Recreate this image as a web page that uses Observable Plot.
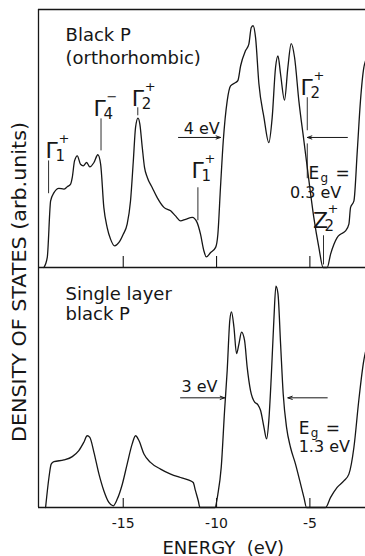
<!DOCTYPE html>
<html><head><meta charset="utf-8">
<script src="https://cdn.jsdelivr.net/npm/d3@7"></script>
<script src="https://cdn.jsdelivr.net/npm/@observablehq/plot@0.6"></script>
<style>
html,body{margin:0;padding:0;background:#fff;}
#chart{position:relative;width:365px;height:556px;overflow:hidden;background:#fff;font-family:"DejaVu Sans",sans-serif;}
#chart svg{position:absolute;left:0;}
</style></head><body><div id="chart"></div>
<script>
// ---------- data ----------
const energyDomain = [-19.54, -2.02];
const dosDomain = [0, 100];
const tickValues = [-15, -10, -5];
const tickLabels = ["-15", "-10", "-5"];
const xAxisLabel = "ENERGY  (eV)";
const xAxisLabelE = -9.64;
const yAxisLabel = "DENSITY OF STATES (arb.units)";

// bulk (orthorhombic) black P
const topE = [-19.25,-19.07,-18.89,-18.71,-18.45,-18.18,-18.0,-17.82,-17.73,-17.61,-17.46,-17.29,-17.14,-16.96,-16.79,-16.57,-16.36,-16.21,-16.04,-15.86,-15.68,-15.46,-15.23,-15.0,-14.79,-14.61,-14.46,-14.34,-14.21,-14.11,-13.98,-13.86,-13.71,-13.45,-13.18,-12.82,-12.46,-12.2,-11.93,-11.66,-11.3,-11.04,-10.86,-10.68,-10.55,-10.32,-10.05,-9.93,-9.79,-9.64,-9.43,-9.25,-8.98,-8.86,-8.71,-8.45,-8.27,-8.14,-8.04,-7.91,-7.73,-7.46,-7.2,-7.02,-6.84,-6.71,-6.57,-6.36,-6.18,-6.0,-5.82,-5.59,-5.32,-5.05,-4.79,-4.52,-4.29,-4.07,-3.89,-3.71,-3.54,-3.36,-3.09,-2.91,-2.82,-2.64,-2.46,-2.29,-2.11,-2.02];
const topDOS = [0,3.9,25.8,29,30.7,30.4,31.3,32.3,34.9,41.3,43.3,40,39.4,40.7,39,40.7,43.7,40,23.3,15.5,11,8.4,9.7,12.9,16.8,25.8,41.3,54.3,57.9,55.6,46.5,38.8,34.9,31,27.1,23.3,22,20,18.1,18.7,19.4,17.4,12.9,6.5,4.1,5.8,7.8,12.9,31,49.1,64.6,70.4,71.7,72.4,78.2,84,86.6,93,93.7,89.1,71.1,58.1,48.4,58.1,77.5,82,74.9,64.9,77.5,86.8,81.4,64.6,49.1,33.6,19.4,7.8,0,0,5.2,9,11.6,12.9,14.2,16.8,23.3,25.8,45.2,64.6,77.5,80.1];

// single layer black P
const bottomE = [-19.16,-18.98,-18.86,-18.71,-18.18,-17.73,-17.38,-17.11,-16.93,-16.79,-16.57,-16.3,-16.04,-15.77,-15.54,-15.32,-15.05,-14.79,-14.52,-14.34,-14.16,-13.89,-13.54,-13.0,-12.46,-11.93,-11.48,-11.25,-11.13,-10.98,-10.89,-10.09,-9.93,-9.75,-9.57,-9.43,-9.29,-9.2,-9.07,-8.93,-8.8,-8.66,-8.5,-8.36,-8.18,-7.96,-7.79,-7.64,-7.46,-7.32,-7.2,-7.07,-6.93,-6.82,-6.71,-6.57,-6.43,-6.25,-6.04,-5.77,-5.54,-5.32,-5.18,-4.16,-3.89,-3.54,-3.18,-2.91,-2.64,-2.38,-2.11,-2.02];
const bottomDOS = [0,12.5,18.1,19.1,19.8,21.2,23.7,27.2,29.9,29.2,23,13.9,7,2.1,0.7,3.5,9.7,18.1,26.5,29.9,27.9,22.3,18.8,16,13.9,12.5,11.4,10.4,7,2.8,0,0,5.6,16.7,40.4,57.1,78,81.5,75.2,64.1,68.2,73.1,69.6,58.5,48.7,43.9,42.9,40.4,33.4,28.6,36.2,54.3,78,92.2,89.1,68.2,47.4,33.4,25.1,18.1,11.1,4.2,0,0,4.2,8.4,11.1,13.9,25.1,44.6,61.3,64.8];

// symmetry labels (top panel)
const symText = ["Γ","Γ","Γ","Γ","Γ","Z"];
const symSub  = ["1","4","2","1","2","2"];
const symSup  = ["+","−","+","+","+","+"];
const symE    = [-18.84,-16.27,-14.22,-11.02,-5.18,-4.43];
const symV    = [42.5,58.8,62.7,34.8,66.9,15.4];
// label leader lines (top panel)
const leadE  = [-19.0,-16.19,-14.22,-11.0,-5.14,-5.14,-4.27];
const leadV1 = [41.3,57.6,61.9,30.9,65.8,47.9,12.3];
const leadV2 = [28.6,45.2,58.8,18.1,53.0,34.4,1.0];

// titles
const topTitle = ["Black P","(orthorhombic)"];
const topTitleE = [-18.09,-18.09];
const topTitleV = [87.6,78.8];
const bottomTitle = ["Single layer","black P"];
const bottomTitleE = [-18.09,-18.09];
const bottomTitleV = [86.6,78.0];

// widths & gaps
const topNote = ["4 eV","0.3 eV"];
const topNoteE = [-11.76,-6.07];
const topNoteV = [51.9,27.0];
const bottomNote = ["3 eV","1.3 eV"];
const bottomNoteE = [-11.88,-5.6];
const bottomNoteV = [48.0,23.3];
const egTopE = [-5.07], egTopV = [34.4];
const egBottomE = [-5.6], egBottomV = [30.8];

// arrows
const topArrowE1 = [-12.04,-2.99], topArrowE2 = [-9.79,-5.13], topArrowV = [50.4,50.4];
const bottomArrowE1 = [-11.93,-4.07], bottomArrowE2 = [-9.57,-6.18], bottomArrowV = [45.7,45.7];

// ---------- build ----------
const ink = "#161616";
const fontFamily = "DejaVu Sans";
const zip = (xs, ys) => xs.map((x, i) => ({e: x, v: ys[i]}));
const topData = zip(topE, topDOS);
const bottomData = zip(bottomE, bottomDOS);
const syms = symText.map((s, i) => ({s, sub: symSub[i], sup: symSup[i], e: symE[i], v: symV[i]}));
const leads = leadE.map((e, i) => ({e, v1: leadV1[i], v2: leadV2[i]}));
const rows = (t, e, v) => t.map((text, i) => ({text, e: e[i], v: v[i]}));
const arrows = (a, b, v) => a.map((x1, i) => ({x1, x2: b[i], v: v[i]}));

function egMarks(e, v) {
  const d = e.map((x, i) => ({e: x, v: v[i]}));
  const o = {x: "e", y: "v", fill: ink, textAnchor: "start", lineAnchor: "bottom", fontFamily};
  return [
    Plot.text(d, {...o, text: () => "E", fontSize: 17}),
    Plot.text(d, {...o, text: () => "g", fontSize: 12, dx: 12, dy: 3}),
    Plot.text(d, {...o, text: () => "=", fontSize: 17, dx: 27})
  ];
}

function frameMarks(withTop) {
  return [
    Plot.ruleY(withTop ? dosDomain : [dosDomain[0]], {stroke: ink, strokeWidth: 1.3}),
    Plot.ruleX([energyDomain[0]], {stroke: ink, strokeWidth: 1.3})
  ];
}

const common = {
  width: 365, marginLeft: 38, marginRight: 0,
  y: {domain: dosDomain, axis: null},
  style: {background: "transparent", overflow: "visible", fontFamily}
};

// top panel: 258 px tall, inward ticks 11 px
const topPlot = Plot.plot({
  ...common, height: 270, marginTop: 9, marginBottom: 3,
  x: {domain: energyDomain, axis: null},
  marks: [
    ...frameMarks(true),
    Plot.tickX(tickValues, {stroke: ink, strokeWidth: 1.1, insetTop: 247}),
    Plot.line(topData, {x: "e", y: "v", curve: "monotone-x", stroke: ink, strokeWidth: 1.3}),
    Plot.ruleX(leads, {x: "e", y1: "v1", y2: "v2", stroke: ink, strokeWidth: 0.9}),
    Plot.text(syms, {x: "e", y: "v", text: "s", fontSize: 22, textAnchor: "middle", lineAnchor: "bottom", fill: ink, fontFamily}),
    Plot.text(syms, {x: "e", y: "v", text: "sub", fontSize: 15, textAnchor: "start", lineAnchor: "bottom", dx: 4, dy: 3, fill: ink, fontFamily}),
    Plot.text(syms, {x: "e", y: "v", text: "sup", fontSize: 13, textAnchor: "start", lineAnchor: "bottom", dx: 7, dy: -15, fill: ink, fontFamily}),
    Plot.text(rows(topTitle, topTitleE, topTitleV), {x: "e", y: "v", text: "text", fontSize: 18, textAnchor: "start", lineAnchor: "bottom", fill: ink, fontFamily, ariaLabel: "title-top"}),
    Plot.text(rows(topNote, topNoteE, topNoteV), {x: "e", y: "v", text: "text", fontSize: 16, textAnchor: "start", lineAnchor: "bottom", fill: ink, fontFamily}),
    ...egMarks(egTopE, egTopV),
    Plot.arrow(arrows(topArrowE1, topArrowE2, topArrowV), {x1: "x1", x2: "x2", y1: "v", y2: "v", stroke: ink, strokeWidth: 1, headLength: 7, headAngle: 40})
  ]
});

// bottom panel: 240 px tall, inward ticks 9 px, labelled axis
const bottomPlot = Plot.plot({
  ...common, height: 294, marginTop: 5, marginBottom: 49,
  x: {domain: energyDomain},
  marks: [
    ...frameMarks(false),
    Plot.tickX(tickValues, {stroke: ink, strokeWidth: 1.1, insetTop: 231}),
    Plot.axisX({ticks: tickValues, tickSize: 0, tickPadding: 11, tickFormat: d => tickLabels[tickValues.indexOf(d)], label: null, fill: ink, fontSize: 14}),
    Plot.line(bottomData, {x: "e", y: "v", curve: "monotone-x", stroke: ink, strokeWidth: 1.3}),
    Plot.text(rows(bottomTitle, bottomTitleE, bottomTitleV), {x: "e", y: "v", text: "text", fontSize: 18, textAnchor: "start", lineAnchor: "bottom", fill: ink, fontFamily, ariaLabel: "title-bottom"}),
    Plot.text(rows(bottomNote, bottomNoteE, bottomNoteV), {x: "e", y: "v", text: "text", fontSize: 16, textAnchor: "start", lineAnchor: "bottom", fill: ink, fontFamily}),
    ...egMarks(egBottomE, egBottomV),
    Plot.arrow(arrows(bottomArrowE1, bottomArrowE2, bottomArrowV), {x1: "x1", x2: "x2", y1: "v", y2: "v", stroke: ink, strokeWidth: 1, headLength: 7, headAngle: 40}),
    Plot.text([xAxisLabel], {x: () => xAxisLabelE, frameAnchor: "bottom", text: d => d, dy: 46, lineAnchor: "bottom", textAnchor: "middle", fontSize: 18, fill: ink, fontFamily, ariaLabel: "xlabel"})
  ]
});

const chart = document.getElementById("chart");
topPlot.style.top = "0px";
bottomPlot.style.top = "262px";
chart.appendChild(topPlot);
chart.appendChild(bottomPlot);
d3.selectAll('#chart g[aria-label="title-top"]').attr("letter-spacing", 1.1);
d3.selectAll('#chart g[aria-label="title-bottom"]').attr("letter-spacing", 0.4);
d3.selectAll('#chart g[aria-label="xlabel"]').attr("letter-spacing", 1);

// y label spanning both panels
const ov = d3.create("svg").attr("width", 365).attr("height", 556).style("top", "0px").style("pointer-events", "none");
ov.append("text")
  .attr("transform", "translate(26,282) rotate(-90)")
  .attr("text-anchor", "middle")
  .attr("font-family", fontFamily)
  .attr("font-size", 19)
  .attr("fill", ink)
  .attr("textLength", 320)
  .attr("lengthAdjust", "spacingAndGlyphs")
  .text(yAxisLabel);
chart.appendChild(ov.node());
</script></body></html>
